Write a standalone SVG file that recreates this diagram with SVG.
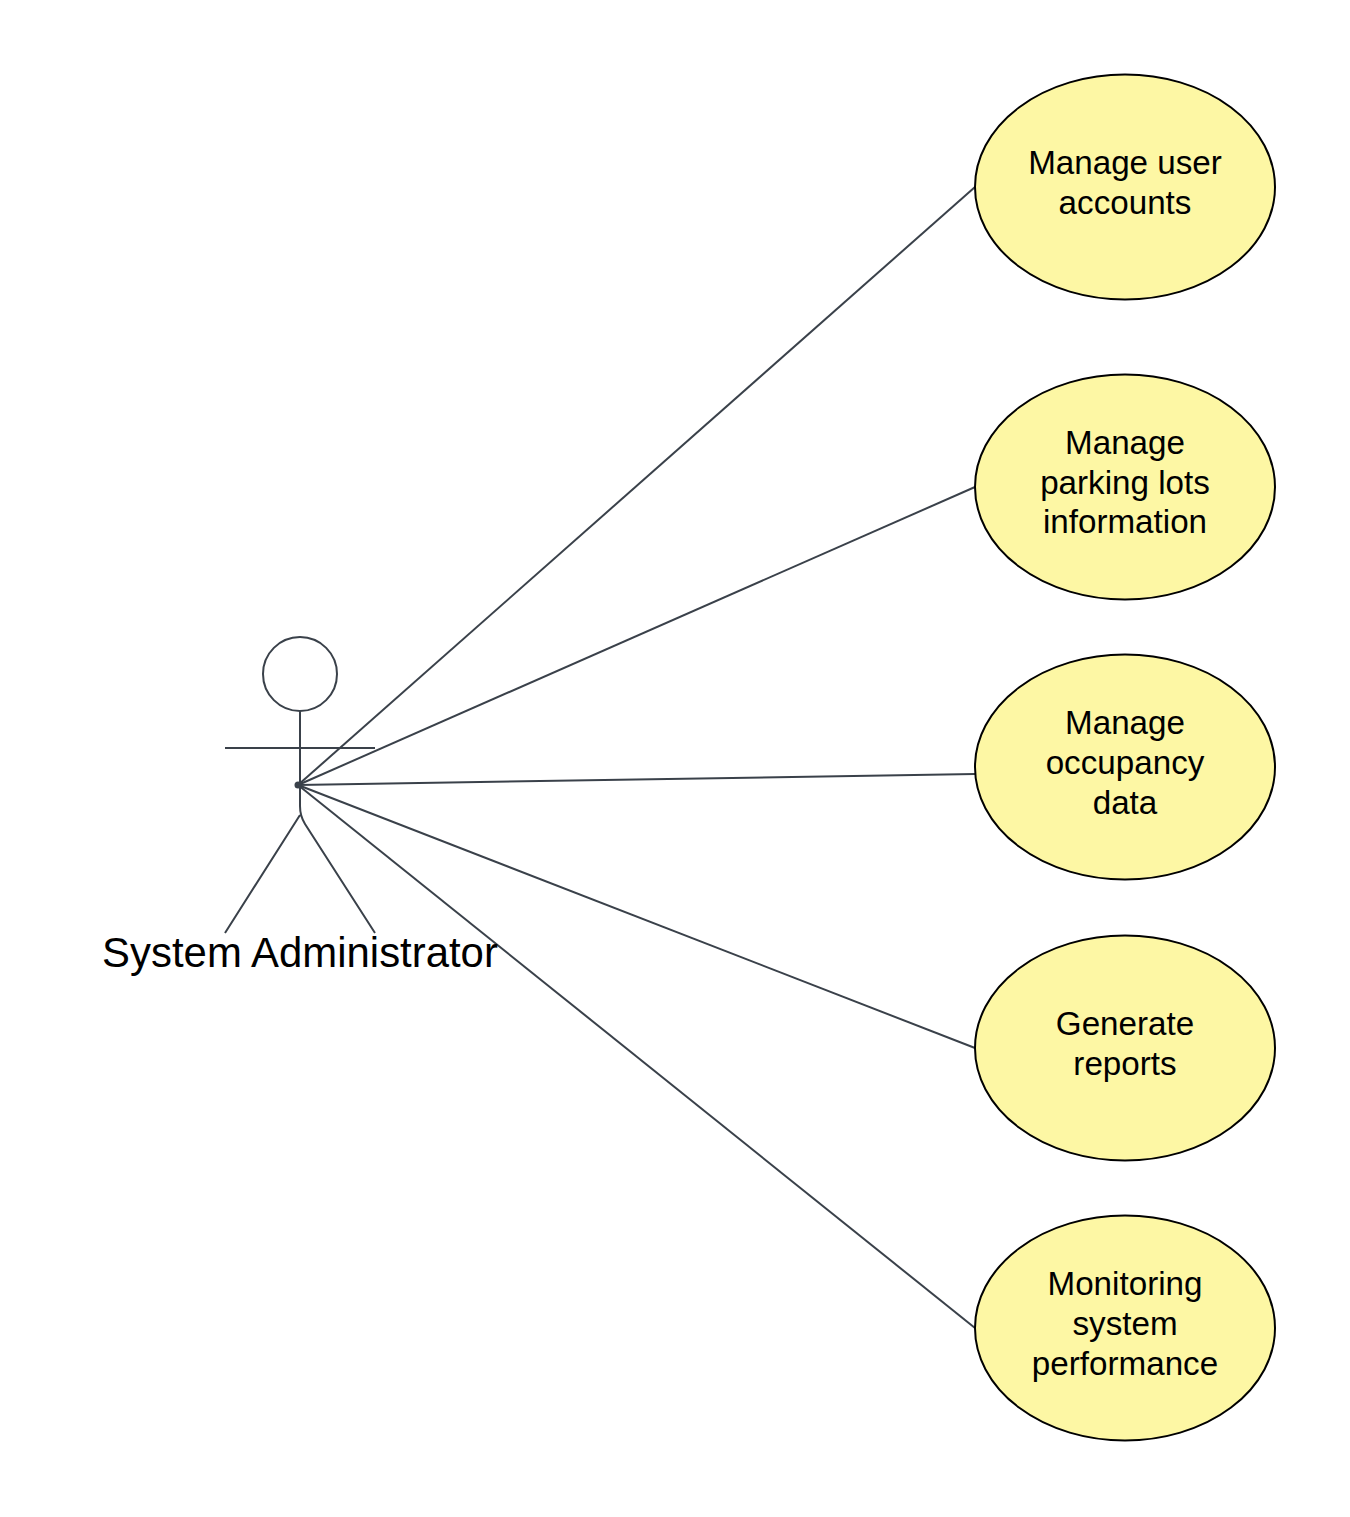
<svg xmlns="http://www.w3.org/2000/svg" width="1350" height="1517" viewBox="0 0 1350 1517">
<style>
.uc{fill:#fdf7a4;stroke:#000;stroke-width:2}
.t{font-family:"Liberation Sans",Arial,sans-serif;font-size:33.2px;fill:#000;text-anchor:middle}
.a{fill:none;stroke:#3a414a;stroke-width:2}
.c{fill:none;stroke:#3a414a;stroke-width:2}
</style>
<rect width="1350" height="1517" fill="#fff"/>
<g id="connectors">
<path class="c" d="M298 785L975 187"/>
<path class="c" d="M298 785L975 487"/>
<path class="c" d="M298 785L975 774"/>
<path class="c" d="M298 785L975 1048"/>
<path class="c" d="M298 785L975 1328"/>
<circle cx="298" cy="785" r="3.5" fill="#3a414a"/>
</g>
<g id="actor">
<circle class="a" cx="300" cy="674" r="37"/>
<path class="a" d="M300 711V806Q300 816 305 824L375 933M225 748H375M300 815L225 933"/>
<text class="t" x="300" y="966.500" style="font-size:41.9px">System Administrator</text>
</g>
<g id="uc1"><ellipse class="uc" cx="1125" cy="187" rx="150" ry="112.500"/><text class="t" x="1125" y="174">Manage user</text><text class="t" x="1125" y="214">accounts</text></g>
<g id="uc2"><ellipse class="uc" cx="1125" cy="487" rx="150" ry="112.500"/><text class="t" x="1125" y="454">Manage</text><text class="t" x="1125" y="494">parking lots</text><text class="t" x="1125" y="533">information</text></g>
<g id="uc3"><ellipse class="uc" cx="1125" cy="767" rx="150" ry="112.500"/><text class="t" x="1125" y="734">Manage</text><text class="t" x="1125" y="774">occupancy</text><text class="t" x="1125" y="814">data</text></g>
<g id="uc4"><ellipse class="uc" cx="1125" cy="1048" rx="150" ry="112.500"/><text class="t" x="1125" y="1034.500">Generate</text><text class="t" x="1125" y="1074.500">reports</text></g>
<g id="uc5"><ellipse class="uc" cx="1125" cy="1328" rx="150" ry="112.500"/><text class="t" x="1125" y="1295">Monitoring</text><text class="t" x="1125" y="1335">system</text><text class="t" x="1125" y="1375">performance</text></g>
</svg>
